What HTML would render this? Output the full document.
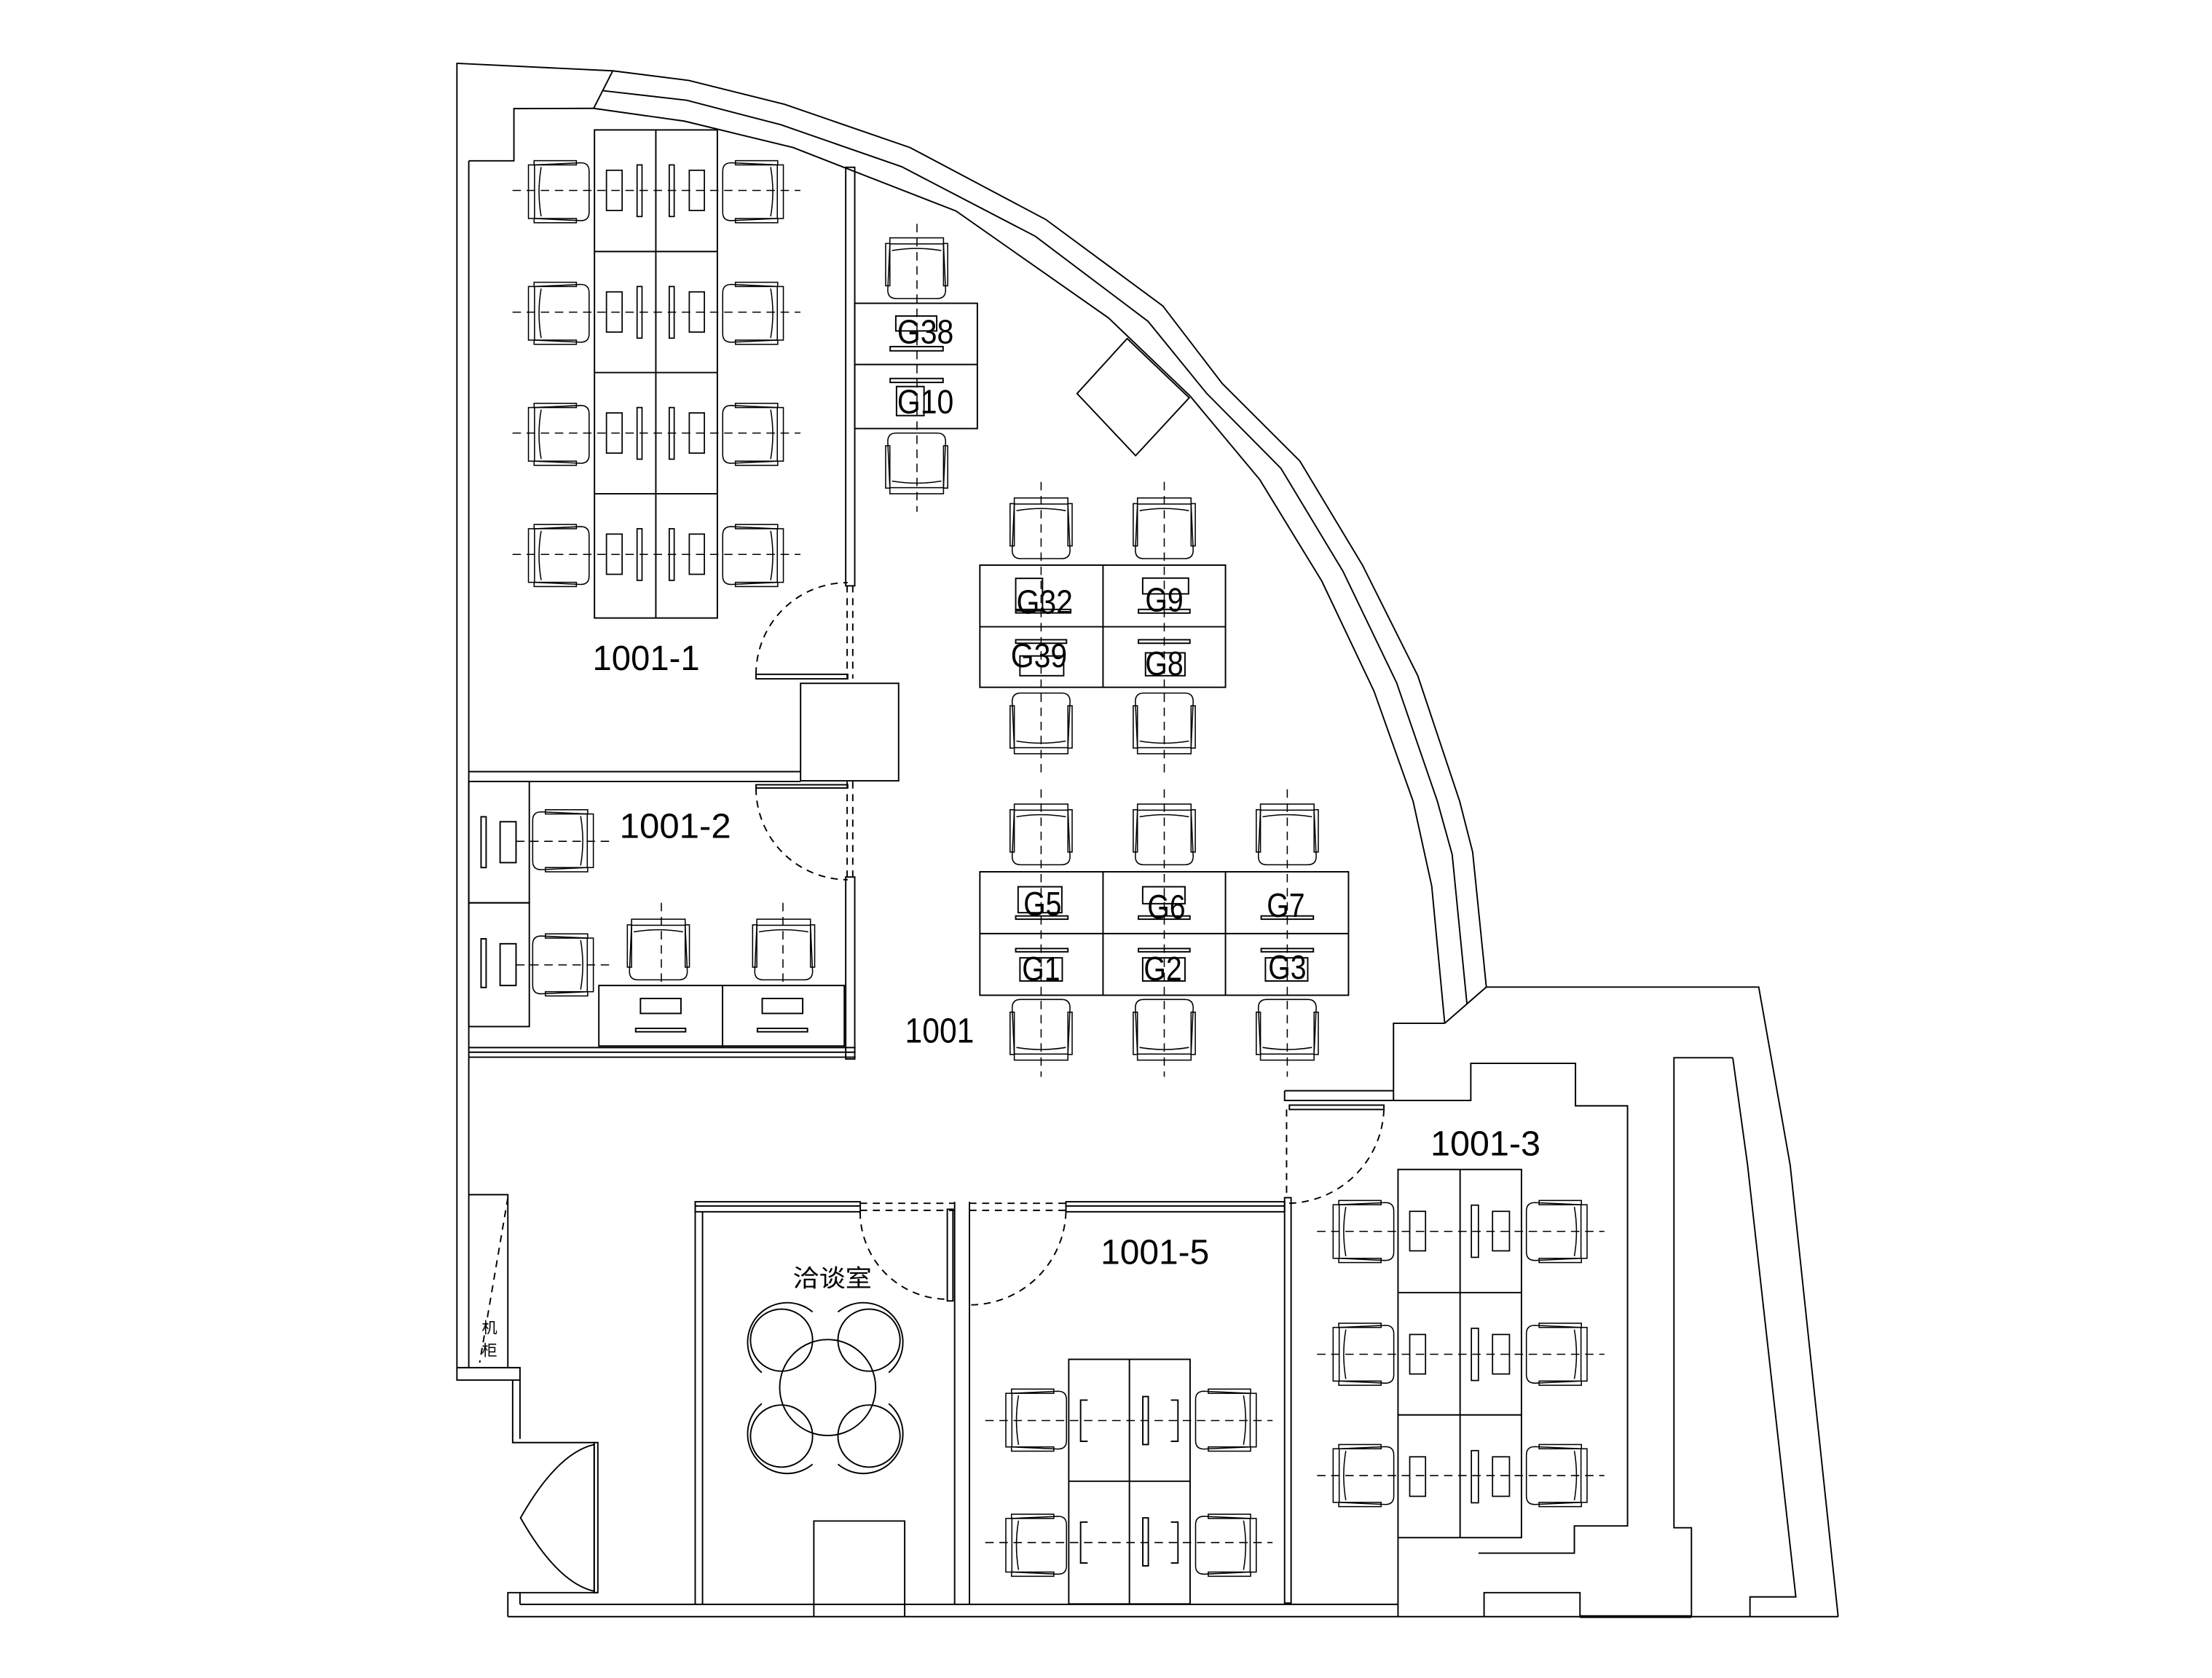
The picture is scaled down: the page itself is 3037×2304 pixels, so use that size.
<!DOCTYPE html>
<html><head><meta charset="utf-8"><style>
html,body{margin:0;padding:0;background:#fff}
svg{display:block}
text{font-family:"Liberation Sans","Noto Sans CJK SC",sans-serif;fill:#000}
</style></head><body>
<svg width="3037" height="2304" viewBox="0 0 1568 1189.5" preserveAspectRatio="none" xmlns="http://www.w3.org/2000/svg">
<defs>
<g id="ch" fill="none" stroke="#000" stroke-width="0.8">
<path d="M3.5,4.3 L2,37 Q2,43 8,43 L37,43 Q43,43 43,37 L41.5,4.3"/>
<rect x="3.5" y="0" width="38" height="4.3"/>
<rect x="0.5" y="4" width="3" height="30"/>
<rect x="41.5" y="4" width="3" height="30"/>
<path d="M5,9 Q22.5,6 40,9"/>
</g>
</defs>
<rect width="1568" height="1189.5" fill="#fff"/>
<g fill="none" stroke="#000" stroke-width="1">
<!-- outer left/top -->
<polyline points="434.4,50.2 323.9,44.9 323.9,978.3 368.6,978.3 368.6,969.5 323.9,969.5"/>
<line x1="332.3" y1="114" x2="332.3" y2="969.5"/>
<polyline points="332.3,114 364.3,114 364.3,77 420.8,76.8"/>
<line x1="434.4" y1="50.2" x2="420.8" y2="76.8"/>
<!-- curve -->
<polyline points="434.4,50.2 488.2,57 556.3,74 645.1,104.6 741.3,155.6 824.2,216.8 866.5,272 921.4,326.8 965.8,400.6 1005,479 1034.7,568 1043.9,604 1053.6,699.7"/>
<polyline points="427.6,64.3 486.8,71.1 553.4,88.4 639.2,118.2 733.9,167.5 813.8,227.8 855.3,278.8 908,332 952,405 990,484 1018.9,568 1029.4,605.8 1039.9,712"/>
<polyline points="420.8,76.8 485.3,85.9 562.2,104.6 677.7,149.6 785.7,225.3 843.4,280.5 893,340 937,412 974,490 1001.7,568 1014.9,628.1 1024.1,725.4"/>
<line x1="1053.6" y1="699.7" x2="1024.1" y2="725.4"/>
<polygon points="799,240 763.5,279 805,323 843,282"/>
<!-- right outer -->
<polyline points="1053.6,699.7 1246.7,699.7 1269,826 1303,1146"/>
<polyline points="1024.1,725.4 987.8,725.4 987.8,780.1"/>
<polyline points="910.6,773.2 987.8,773.2"/>
<polyline points="910.6,773.2 910.6,780.1 1042.6,780.1 1042.6,753.8 1116.8,753.8 1116.8,783.9 1153.7,783.9 1153.7,1081.7 1116,1081.7 1116,1101 1048,1101"/>
<rect x="914" y="783.4" width="67" height="3.1"/>
<line x1="912" y1="786.5" x2="912" y2="849" stroke-dasharray="5,4"/>
<path d="M981,786.5 A69,69 0 0 1 912,853" stroke-dasharray="5,4"/>
<polyline points="1228.3,749.8 1186.6,749.8 1186.6,1083 1199,1083 1199,1146"/>
<polyline points="1228.3,749.8 1238.8,826 1273,1132 1240.5,1132 1240.5,1146"/>
<polyline points="1052,1146 1052,1129 1120,1129 1120,1146"/>
<line x1="991" y1="1090" x2="991" y2="1146"/>
<!-- bottom lines -->
<line x1="360" y1="1146" x2="1303" y2="1146"/>
<line x1="1120" y1="1146" x2="1199" y2="1146" stroke-width="2"/>
<line x1="368.6" y1="1137.3" x2="990.8" y2="1137.3"/>
<!-- bottom-left entry -->
<polyline points="332.3,846.9 360,846.9 360,969.5"/>
<line x1="360" y1="849" x2="340" y2="966" stroke-dasharray="5,4"/>
<polyline points="363.4,978.3 363.4,1022.6 421.2,1022.6 421.2,1129"/>
<line x1="368.6" y1="978.3" x2="368.6" y2="1020"/>
<rect x="421.2" y="1022.6" width="2.6" height="106.4"/>
<path d="M421.2,1024 Q395,1030 369,1076 Q395,1122 421.2,1128"/>
<polyline points="360,1146 360,1129 422.5,1129"/>
<line x1="368.6" y1="1129" x2="368.6" y2="1137.3"/>
<!-- 1001-1 partition and doors -->
<rect x="599.5" y="118.6" width="6.4" height="296.7"/>
<line x1="600.5" y1="415" x2="600.5" y2="481" stroke-dasharray="5,4"/>
<line x1="604.5" y1="415" x2="604.5" y2="481" stroke-dasharray="5,4"/>
<rect x="535.9" y="478" width="65" height="3.2"/>
<path d="M535.9,478 A65,65 0 0 1 600.9,413" stroke-dasharray="5,4"/>
<rect x="567.5" y="484.4" width="69.5" height="69.1"/>
<line x1="332.3" y1="547" x2="567.5" y2="547"/>
<line x1="332.3" y1="554" x2="567.5" y2="554"/>
<rect x="535.9" y="556.3" width="65" height="2.3"/>
<path d="M535.9,558.6 A65,65 0 0 0 600.9,623.6" stroke-dasharray="5,4"/>
<line x1="600.5" y1="554" x2="600.5" y2="621.7" stroke-dasharray="5,4"/>
<line x1="604.5" y1="554" x2="604.5" y2="621.7" stroke-dasharray="5,4"/>
<rect x="599.5" y="621.7" width="6.4" height="129"/>
<line x1="332.5" y1="742.6" x2="606.5" y2="742.6"/>
<line x1="332.5" y1="745.9" x2="606.5" y2="745.9"/>
<line x1="332.5" y1="749.4" x2="606.5" y2="749.4"/>
<!-- 1001-1 desk -->
<rect x="421.4" y="92.1" width="87.1" height="346"/>
<line x1="464.9" y1="92.1" x2="464.9" y2="438"/>
<line x1="421.4" y1="178.3" x2="508.5" y2="178.3"/>
<line x1="421.4" y1="264.1" x2="508.5" y2="264.1"/>
<line x1="421.4" y1="350" x2="508.5" y2="350"/>
<!-- 1001-2 cabinets and desks -->
<rect x="332.3" y="554" width="42.9" height="86"/>
<rect x="332.3" y="640" width="42.9" height="87.7"/>
<rect x="341" y="579" width="3.6" height="36"/>
<rect x="354.5" y="582.5" width="11.3" height="29"/>
<rect x="341" y="665.5" width="3.6" height="34.5"/>
<rect x="354.5" y="669" width="11.3" height="29.6"/>
<rect x="424.5" y="698.6" width="87.7" height="42.9"/>
<rect x="512.2" y="698.6" width="86.3" height="42.9"/>
<rect x="454" y="707.8" width="28.7" height="10.6"/>
<rect x="450.6" y="729" width="35.4" height="2.4"/>
<rect x="540.3" y="707.8" width="28.7" height="10.6"/>
<rect x="536.9" y="729" width="35.5" height="2.4"/>
<!-- G desks -->
<rect x="605.9" y="215" width="86.9" height="88.8"/>
<line x1="605.9" y1="258.4" x2="692.8" y2="258.4"/>
<rect x="694.6" y="400.6" width="174.1" height="86.6"/>
<line x1="781.9" y1="400.6" x2="781.9" y2="487.2"/>
<line x1="694.6" y1="444.3" x2="868.7" y2="444.3"/>
<rect x="694.6" y="618" width="261.3" height="87.5"/>
<line x1="781.9" y1="618" x2="781.9" y2="705.5"/>
<line x1="868.7" y1="618" x2="868.7" y2="705.5"/>
<line x1="694.6" y1="661.8" x2="955.9" y2="661.8"/>
<!-- label boxes/bars -->
<rect x="635" y="224" width="29" height="10.6"/>
<rect x="631" y="245.7" width="37.5" height="3"/>
<rect x="631" y="268.3" width="37.5" height="2.8"/>
<rect x="635.5" y="274" width="19.5" height="20.6"/>
<rect x="720" y="410" width="19" height="23"/>
<rect x="720" y="432" width="39" height="2.5"/>
<rect x="810" y="409.8" width="32.5" height="11.2"/>
<rect x="807" y="432" width="36.5" height="2.6"/>
<rect x="723" y="465" width="31" height="14"/>
<rect x="720" y="453.5" width="36" height="2.5"/>
<rect x="807" y="453.5" width="36.5" height="2.5"/>
<rect x="812" y="462.8" width="28" height="16.2"/>
<rect x="721.7" y="628.6" width="31" height="18.4"/>
<rect x="720" y="649.3" width="37" height="2.3"/>
<rect x="810" y="628.6" width="30" height="12"/>
<rect x="807" y="649.3" width="36.5" height="2.3"/>
<rect x="894" y="649.3" width="37" height="2.3"/>
<rect x="720" y="672.4" width="37" height="2.3"/>
<rect x="723" y="679" width="30" height="16.4"/>
<rect x="807" y="672.4" width="36.5" height="2.3"/>
<rect x="810" y="679" width="30" height="16.4"/>
<rect x="894" y="672.4" width="37" height="2.3"/>
<rect x="897" y="679" width="30" height="16.4"/>
<!-- 洽谈室 / 1001-5 walls -->
<rect x="492.8" y="851.9" width="117" height="7.1"/>
<line x1="492.8" y1="854.9" x2="609.7" y2="854.9"/>
<line x1="609.7" y1="853" x2="676.7" y2="853" stroke-dasharray="5,4"/>
<line x1="609.7" y1="858" x2="676.7" y2="858" stroke-dasharray="5,4"/>
<line x1="687.2" y1="853" x2="755.6" y2="853" stroke-dasharray="5,4"/>
<line x1="687.2" y1="858" x2="755.6" y2="858" stroke-dasharray="5,4"/>
<rect x="755.6" y="851.9" width="155" height="7.1"/>
<line x1="755.6" y1="854.9" x2="910.6" y2="854.9"/>
<rect x="910.6" y="849" width="4.6" height="287.4"/>
<line x1="492.8" y1="851.9" x2="492.8" y2="1137.3"/>
<line x1="498" y1="859" x2="498" y2="1137.3"/>
<line x1="676.7" y1="851.9" x2="676.7" y2="1137.3"/>
<line x1="687.2" y1="851.9" x2="687.2" y2="1137.3"/>
<rect x="671.5" y="857.2" width="4" height="65"/>
<path d="M609.7,859 A62,62 0 0 0 671.5,921" stroke-dasharray="5,4"/>
<path d="M755.6,859 A68,68 0 0 1 687.2,925" stroke-dasharray="5,4"/>
<polyline points="576.9,1146 576.9,1078.2 641.3,1078.2 641.3,1146"/>
<!-- round table -->
<circle cx="586.7" cy="983.6" r="34"/>
<circle cx="554" cy="950" r="22"/>
<circle cx="616" cy="950" r="22"/>
<circle cx="554" cy="1018" r="22"/>
<circle cx="616" cy="1018" r="22"/>
<path d="M576,930 A27,27 0 1 0 540,973"/>
<path d="M594,930 A27,27 0 1 1 630,973"/>
<path d="M576,1038 A27,27 0 1 1 540,995"/>
<path d="M594,1038 A27,27 0 1 0 630,995"/>
<!-- 1001-5 desk -->
<rect x="757.6" y="963.6" width="86" height="173.4"/>
<line x1="757.6" y1="1050" x2="843.6" y2="1050"/>
<line x1="800.6" y1="963.6" x2="800.6" y2="1137"/>
<path d="M771,992.5 H766 V1021.7 H771"/><rect x="810.1" y="990" width="3.9" height="34"/><path d="M830,992.5 H835 V1021.7 H830"/>
<path d="M771,1079 H766 V1108 H771"/><rect x="810.1" y="1076" width="3.9" height="34"/><path d="M830,1079 H835 V1108 H830"/>
<!-- 1001-3 desk -->
<rect x="991" y="829" width="87.5" height="261"/>
<line x1="991" y1="916.3" x2="1078.5" y2="916.3"/>
<line x1="991" y1="1003" x2="1078.5" y2="1003"/>
<line x1="1035" y1="829" x2="1035" y2="1090"/>
</g>
<!-- monitors 1001-1 and 1001-3 -->
<g fill="none" stroke="#000" stroke-width="0.9">
<g id="m1"><rect x="429.9" y="120.7" width="11.1" height="28.5"/><rect x="451.6" y="116.9" width="3.5" height="36.6"/><rect x="474.4" y="116.9" width="3.5" height="36.6"/><rect x="488.6" y="120.7" width="10.7" height="28.5"/></g>
<use href="#m1" transform="translate(0,86.2)"/>
<use href="#m1" transform="translate(0,172)"/>
<use href="#m1" transform="translate(0,257.9)"/>
<g id="m3"><rect x="999.3" y="858.7" width="11.2" height="28"/><rect x="1043" y="854.3" width="5" height="37"/><rect x="1058" y="858.7" width="12" height="28"/></g>
<use href="#m3" transform="translate(0,87.3)"/>
<use href="#m3" transform="translate(0,174)"/>
</g>
<!-- dashed center lines -->
<g stroke="#000" stroke-width="0.8" stroke-dasharray="6,4" fill="none">
<line x1="363.3" y1="135" x2="567.4" y2="135"/>
<line x1="363.3" y1="221.3" x2="567.4" y2="221.3"/>
<line x1="363.3" y1="307" x2="567.4" y2="307"/>
<line x1="363.3" y1="393" x2="567.4" y2="393"/>
<line x1="365.8" y1="596.4" x2="433.4" y2="596.4"/>
<line x1="365.8" y1="684" x2="433.4" y2="684"/>
<line x1="468.8" y1="640" x2="468.8" y2="700"/>
<line x1="555" y1="640" x2="555" y2="700"/>
<line x1="650" y1="158.7" x2="650" y2="362.8"/>
<line x1="738" y1="341.6" x2="738" y2="548"/>
<line x1="825.3" y1="341.6" x2="825.3" y2="548"/>
<line x1="738" y1="559.5" x2="738" y2="763.3"/>
<line x1="825.3" y1="559.5" x2="825.3" y2="763.3"/>
<line x1="912.5" y1="559.5" x2="912.5" y2="763.3"/>
<line x1="698.4" y1="1007" x2="902.1" y2="1007"/>
<line x1="698.4" y1="1093.5" x2="902.1" y2="1093.5"/>
<line x1="933.6" y1="872.9" x2="1137.3" y2="872.9"/>
<line x1="933.6" y1="960" x2="1137.3" y2="960"/>
<line x1="933.6" y1="1046" x2="1137.3" y2="1046"/>
</g>
<!-- chairs -->
<g>
<!-- 1001-1 -->
<use href="#ch" transform="translate(374.6,113.4) translate(0,45) rotate(-90)"/>
<use href="#ch" transform="translate(374.6,199.6) translate(0,45) rotate(-90)"/>
<use href="#ch" transform="translate(374.6,285.4) translate(0,45) rotate(-90)"/>
<use href="#ch" transform="translate(374.6,371.3) translate(0,45) rotate(-90)"/>
<use href="#ch" transform="translate(512.3,113.4) translate(43,0) rotate(90)"/>
<use href="#ch" transform="translate(512.3,199.6) translate(43,0) rotate(90)"/>
<use href="#ch" transform="translate(512.3,285.4) translate(43,0) rotate(90)"/>
<use href="#ch" transform="translate(512.3,371.3) translate(43,0) rotate(90)"/>
<!-- 1001-2 -->
<use href="#ch" transform="translate(377.6,573.5) translate(43,0) rotate(90)"/>
<use href="#ch" transform="translate(377.6,661.5) translate(43,0) rotate(90)"/>
<use href="#ch" transform="translate(444.2,651.6)"/>
<use href="#ch" transform="translate(533,651.6)"/>
<!-- G38/G10 -->
<use href="#ch" transform="translate(627.3,168.6)"/>
<use href="#ch" transform="translate(627.3,307) translate(45,43) rotate(180)"/>
<!-- G cluster 1 -->
<use href="#ch" transform="translate(715.5,353)"/>
<use href="#ch" transform="translate(802.8,353)"/>
<use href="#ch" transform="translate(715.5,491.3) translate(45,43) rotate(180)"/>
<use href="#ch" transform="translate(802.8,491.3) translate(45,43) rotate(180)"/>
<!-- G cluster 2 -->
<use href="#ch" transform="translate(715.5,570)"/>
<use href="#ch" transform="translate(802.8,570)"/>
<use href="#ch" transform="translate(890,570)"/>
<use href="#ch" transform="translate(715.5,708.5) translate(45,43) rotate(180)"/>
<use href="#ch" transform="translate(802.8,708.5) translate(45,43) rotate(180)"/>
<use href="#ch" transform="translate(890,708.5) translate(45,43) rotate(180)"/>
<!-- 1001-5 -->
<use href="#ch" transform="translate(713,984.2) translate(0,45) rotate(-90)"/>
<use href="#ch" transform="translate(713,1072.9) translate(0,45) rotate(-90)"/>
<use href="#ch" transform="translate(847.5,984.2) translate(43,0) rotate(90)"/>
<use href="#ch" transform="translate(847.5,1072.9) translate(43,0) rotate(90)"/>
<!-- 1001-3 -->
<use href="#ch" transform="translate(945,850.5) translate(0,45) rotate(-90)"/>
<use href="#ch" transform="translate(945,937.5) translate(0,45) rotate(-90)"/>
<use href="#ch" transform="translate(945,1023.5) translate(0,45) rotate(-90)"/>
<use href="#ch" transform="translate(1082,850.5) translate(43,0) rotate(90)"/>
<use href="#ch" transform="translate(1082,937.5) translate(43,0) rotate(90)"/>
<use href="#ch" transform="translate(1082,1023.5) translate(43,0) rotate(90)"/>
</g>
<!-- labels -->
<g font-size="24" text-anchor="middle">
<text x="656" y="243.5" textLength="40" lengthAdjust="spacingAndGlyphs">G38</text>
<text x="656" y="293" textLength="40" lengthAdjust="spacingAndGlyphs">G10</text>
<text x="740.5" y="435" textLength="40" lengthAdjust="spacingAndGlyphs">G32</text>
<text x="825.3" y="433.5" textLength="27" lengthAdjust="spacingAndGlyphs">G9</text>
<text x="736.5" y="473" textLength="40" lengthAdjust="spacingAndGlyphs">G39</text>
<text x="825.3" y="478.5" textLength="27" lengthAdjust="spacingAndGlyphs">G8</text>
<text x="739" y="649" textLength="27" lengthAdjust="spacingAndGlyphs">G5</text>
<text x="826.8" y="651" textLength="27" lengthAdjust="spacingAndGlyphs">G6</text>
<text x="911.5" y="650" textLength="27" lengthAdjust="spacingAndGlyphs">G7</text>
<text x="738" y="695" textLength="27" lengthAdjust="spacingAndGlyphs">G1</text>
<text x="824.3" y="695" textLength="27" lengthAdjust="spacingAndGlyphs">G2</text>
<text x="912.5" y="694" textLength="27" lengthAdjust="spacingAndGlyphs">G3</text>
</g>
<g font-size="25" text-anchor="middle">
<text x="458" y="475" textLength="76" lengthAdjust="spacingAndGlyphs">1001-1</text>
<text x="478.7" y="594" textLength="79" lengthAdjust="spacingAndGlyphs">1001-2</text>
<text x="666" y="739" textLength="49" lengthAdjust="spacingAndGlyphs">1001</text>
<text x="1053" y="819" textLength="78" lengthAdjust="spacingAndGlyphs">1001-3</text>
<text x="818.7" y="896" textLength="77" lengthAdjust="spacingAndGlyphs">1001-5</text>
</g>
<text x="590" y="912" font-size="17" text-anchor="middle" textLength="56" lengthAdjust="spacingAndGlyphs">洽谈室</text>
<text x="347" y="945" font-size="11" text-anchor="middle">机</text>
<text x="347" y="961" font-size="11" text-anchor="middle">柜</text>
</svg>
</body></html>
